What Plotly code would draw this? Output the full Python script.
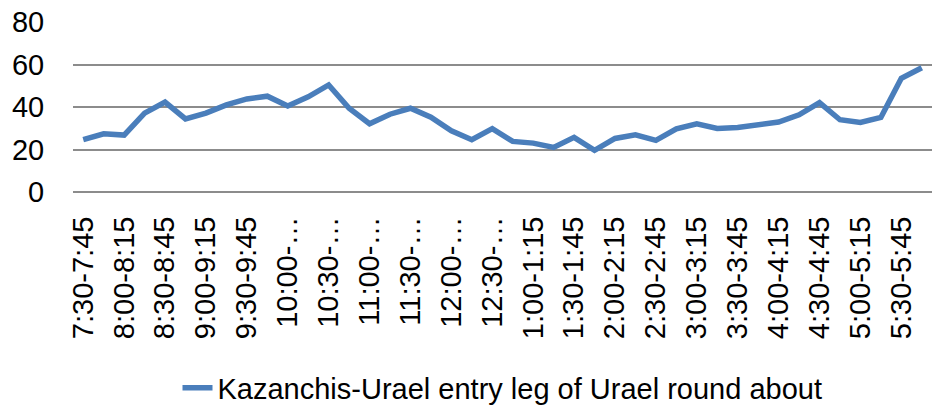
import plotly.graph_objects as go

categories = [
    "7:30-7:45", "7:45-8:00", "8:00-8:15", "8:15-8:30", "8:30-8:45", "8:45-9:00",
    "9:00-9:15", "9:15-9:30", "9:30-9:45", "9:45-10:00", "10:00-10:15", "10:15-10:30",
    "10:30-10:45", "10:45-11:00", "11:00-11:15", "11:15-11:30", "11:30-11:45", "11:45-12:00",
    "12:00-12:15", "12:15-12:30", "12:30-12:45", "12:45-1:00", "1:00-1:15", "1:15-1:30",
    "1:30-1:45", "1:45-2:00", "2:00-2:15", "2:15-2:30", "2:30-2:45", "2:45-3:00",
    "3:00-3:15", "3:15-3:30", "3:30-3:45", "3:45-4:00", "4:00-4:15", "4:15-4:30",
    "4:30-4:45", "4:45-5:00", "5:00-5:15", "5:15-5:30", "5:30-5:45", "5:45-6:00",
]

values = [
    24.6, 27.4, 26.8, 37.1, 42.3, 34.4, 37.1, 41.0, 43.8, 45.1, 40.5, 44.8,
    50.4, 39.4, 32.1, 36.6, 39.4, 35.2, 28.8, 24.6, 29.8, 23.8, 23.0, 21.0,
    25.7, 19.6, 25.2, 26.9, 24.3, 29.7, 32.1, 29.9, 30.4, 31.5, 32.9, 36.3,
    42.1, 34.0, 32.7, 35.1, 53.5, 58.5,
]

tick_labels = [
    "7:30-7:45", "8:00-8:15", "8:30-8:45", "9:00-9:15", "9:30-9:45",
    "10:00-…", "10:30-…", "11:00-…", "11:30-…", "12:00-…", "12:30-…",
    "1:00-1:15", "1:30-1:45", "2:00-2:15", "2:30-2:45", "3:00-3:15",
    "3:30-3:45", "4:00-4:15", "4:30-4:45", "5:00-5:15", "5:30-5:45",
]

series_name = "Kazanchis-Urael entry leg of Urael round about"

font_family = "Liberation Sans"
grid_color = "#8c8c8c"

fig = go.Figure()
fig.add_trace(go.Scatter(
    x=categories,
    y=values,
    mode="lines",
    name=series_name,
    line=dict(color="#4a7ebb", width=5.5),
))

fig.update_layout(
    width=945,
    height=418,
    margin=dict(l=73, r=13, t=22, b=226, autoexpand=False),
    paper_bgcolor="white",
    plot_bgcolor="white",
    font=dict(family=font_family, size=29, color="black"),
    showlegend=True,
    legend=dict(
        orientation="h",
        x=0.5,
        xanchor="center",
        y=-1.153,
        yanchor="middle",
        font=dict(family=font_family, size=29, color="black"),
    ),
)

fig.update_xaxes(
    type="category",
    categoryorder="array",
    categoryarray=categories,
    range=[-0.5, len(categories) - 0.5],
    tickmode="array",
    tickvals=categories[::2],
    ticktext=tick_labels,
    tickangle=-90,
    automargin=False,
    showgrid=False,
    showline=False,
    ticks="outside",
    ticklen=12,
    tickcolor="rgba(0,0,0,0)",
    tickfont=dict(family=font_family, size=29, color="black"),
)

fig.update_yaxes(
    range=[0, 80],
    tickmode="array",
    tickvals=[0, 20, 40, 60, 80],
    automargin=False,
    showgrid=True,
    gridcolor=grid_color,
    gridwidth=1.5,
    zeroline=True,
    zerolinecolor=grid_color,
    zerolinewidth=1.5,
    showline=False,
    ticks="outside",
    ticklen=22,
    tickcolor="rgba(0,0,0,0)",
    tickfont=dict(family=font_family, size=29, color="black"),
)

fig.write_html(
    "out.html",
    config={"displayModeBar": False},
    post_script="document.body.style.margin='0';document.body.style.overflow='hidden';",
)
